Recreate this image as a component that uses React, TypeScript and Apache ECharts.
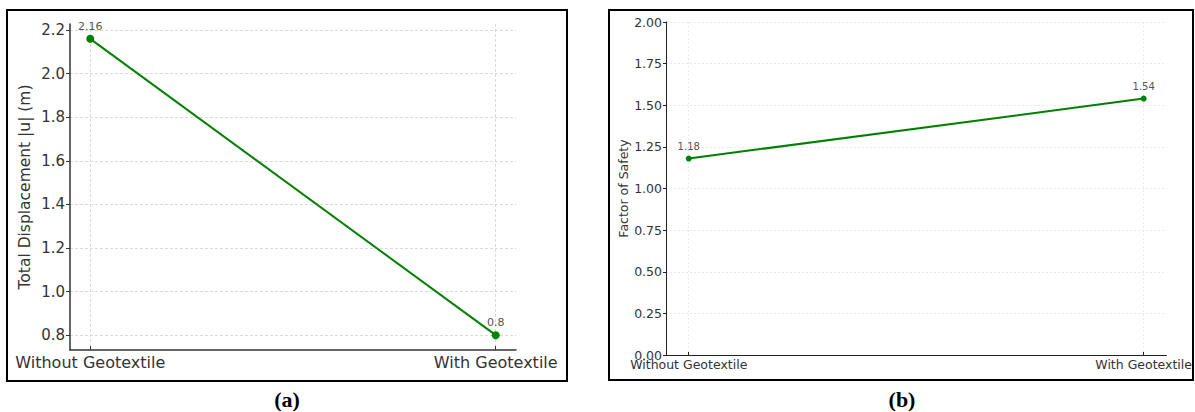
import React, { useEffect, useRef } from "react";
import * as echarts from "echarts";

const categories = ["Without Geotextile", "With Geotextile"];
const displacement = [2.16, 0.8];
const factorOfSafety = [1.18, 1.54];
const dispTicks = [0.8, 1.0, 1.2, 1.4, 1.6, 1.8, 2.0, 2.2];
const fosTicks = [0, 0.25, 0.5, 0.75, 1.0, 1.25, 1.5, 1.75, 2.0];

const GREEN = "#008000";
const FONT = "DejaVu Sans";

export default function App() {
  const ref = useRef<HTMLDivElement>(null);
  useEffect(() => {
    if (!ref.current) return;
    const chart = echarts.init(ref.current, undefined, { renderer: "svg" });
    const catIdx = categories.map((_, i) => i);
    const xLabel = (v: number) => {
      const i = Math.round(v);
      return Math.abs(v - i) < 1e-6 && categories[i] ? categories[i] : "";
    };
    const option: any = {
      animation: false,
      backgroundColor: "#fff",
      grid: [
        { left: 70, right: 679, top: 24, bottom: 62 },
        { left: 666, right: 28, top: 22, bottom: 57 },
      ],
      xAxis: [
        {
          type: "value",
          gridIndex: 0,
          min: -0.05,
          max: 1.05,
          axisLine: { show: true, onZero: false, lineStyle: { color: "#333", width: 1.5 } },
          axisTick: { show: true, inside: true, length: 4, customValues: catIdx, lineStyle: { color: "#333" } },
          axisLabel: {
            customValues: catIdx,
            formatter: xLabel,
            fontFamily: FONT,
            fontSize: 16,
            color: "#333",
            margin: 4,
          },
          splitLine: { show: true, lineStyle: { color: "#d0d0d0", type: [3, 2], width: 0.8 } },
        },
        {
          type: "value",
          gridIndex: 1,
          min: -0.05,
          max: 1.05,
          axisLine: { show: true, onZero: false, lineStyle: { color: "#222", width: 1 } },
          axisTick: { show: true, inside: true, length: 3, customValues: catIdx, lineStyle: { color: "#222" } },
          axisLabel: {
            customValues: catIdx,
            formatter: xLabel,
            fontFamily: FONT,
            fontSize: 12.5,
            color: "#333",
            margin: 3,
          },
          splitLine: { show: true, lineStyle: { color: "#e4e4e4", type: [2, 2], width: 0.8 } },
        },
      ],
      yAxis: [
        {
          type: "value",
          gridIndex: 0,
          min: 0.732,
          max: 2.228,
          name: "Total Displacement |u| (m)",
          nameLocation: "middle",
          nameGap: 37,
          nameTextStyle: { fontFamily: FONT, fontSize: 15.5, color: "#333" },
          axisLine: { show: true, onZero: false, lineStyle: { color: "#333", width: 1.5 } },
          axisTick: { show: true, length: 4, customValues: dispTicks, lineStyle: { color: "#333" } },
          axisLabel: {
            customValues: dispTicks,
            formatter: (v: number) => v.toFixed(1),
            fontFamily: FONT,
            fontSize: 15,
            color: "#333",
            margin: 5,
          },
          splitLine: { show: true, lineStyle: { color: "#d0d0d0", type: [3, 2], width: 0.8 } },
        },
        {
          type: "value",
          gridIndex: 1,
          min: 0,
          max: 2,
          name: "Factor of Safety",
          nameLocation: "middle",
          nameGap: 36,
          nameTextStyle: { fontFamily: FONT, fontSize: 12.5, color: "#333" },
          axisLine: { show: true, onZero: false, lineStyle: { color: "#222", width: 1 } },
          axisTick: { show: true, length: 3, customValues: fosTicks, lineStyle: { color: "#222" } },
          axisLabel: {
            customValues: fosTicks,
            formatter: (v: number) => v.toFixed(2),
            fontFamily: FONT,
            fontSize: 12.5,
            color: "#333",
            margin: 4,
          },
          splitLine: { show: true, lineStyle: { color: "#e4e4e4", type: [2, 2], width: 0.8 } },
        },
      ],
      series: [
        {
          type: "line",
          xAxisIndex: 0,
          yAxisIndex: 0,
          data: displacement.map((v, i) => [i, v]),
          lineStyle: { color: GREEN, width: 2 },
          itemStyle: { color: GREEN },
          symbol: "circle",
          symbolSize: 8,
          label: {
            show: true,
            position: "top",
            distance: 3,
            formatter: (p: any) => String(p.value[1]),
            fontFamily: FONT,
            fontSize: 11,
            color: "#555",
          },
        },
        {
          type: "line",
          xAxisIndex: 1,
          yAxisIndex: 1,
          data: factorOfSafety.map((v, i) => [i, v]),
          lineStyle: { color: GREEN, width: 2 },
          itemStyle: { color: GREEN },
          symbol: "circle",
          symbolSize: 6,
          label: {
            show: true,
            position: "top",
            distance: 4,
            formatter: (p: any) => String(p.value[1]),
            fontFamily: FONT,
            fontSize: 10,
            color: "#555",
          },
        },
      ],
      graphic: [
        {
          type: "rect",
          shape: { x: 7, y: 10, width: 560, height: 371 },
          style: { fill: "none", stroke: "#000", lineWidth: 2 },
          silent: true,
        },
        {
          type: "rect",
          shape: { x: 609, y: 10, width: 584, height: 370 },
          style: { fill: "none", stroke: "#000", lineWidth: 2 },
          silent: true,
        },
        {
          type: "text",
          x: 287,
          y: 399,
          style: {
            text: "(a)",
            font: "bold 22px 'Liberation Serif', 'Times New Roman', serif",
            fill: "#000",
            textAlign: "center",
            textVerticalAlign: "middle",
          },
        },
        {
          type: "text",
          x: 902,
          y: 399,
          style: {
            text: "(b)",
            font: "bold 22px 'Liberation Serif', 'Times New Roman', serif",
            fill: "#000",
            textAlign: "center",
            textVerticalAlign: "middle",
          },
        },
      ],
    };
    chart.setOption(option);
    return () => chart.dispose();
  }, []);
  return (
    <div
      ref={ref}
      style={{ position: "absolute", left: 0, top: 0, width: 1195, height: 412 }}
    />
  );
}
